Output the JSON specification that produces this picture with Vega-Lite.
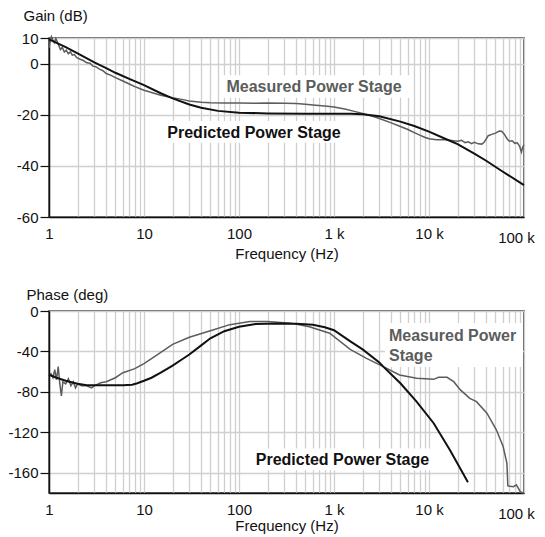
{
  "$schema": "https://vega.github.io/schema/vega-lite/v6.json",
  "background": "white",
  "padding": {"left": 7, "top": 7, "right": 5, "bottom": 0},
  "bounds": "flush",
  "spacing": 94,
  "config": {
    "font": "Liberation Sans",
    "view": {"stroke": "#333", "strokeWidth": 1.5},
    "axis": {
      "labelFont": "Liberation Sans", "labelFontSize": 15, "labelColor": "#111",
      "titleFont": "Liberation Sans", "titleFontSize": 15, "titleFontWeight": "normal", "titleColor": "#111",
      "gridColor": "#cfcfcf", "gridWidth": 1.3, "domainColor": "#111", "domainWidth": 1.5,
      "tickColor": "#111", "tickWidth": 1.2
    }
  },
  "datasets": {
    "gain": [
      {"f": 1, "v": 6, "s": "Measured"}, {"f": 1.03, "v": 9, "s": "Measured"}, {"f": 1.06, "v": 10.5, "s": "Measured"},
      {"f": 1.1, "v": 9.2, "s": "Measured"}, {"f": 1.14, "v": 8.2, "s": "Measured"}, {"f": 1.18, "v": 9.8, "s": "Measured"},
      {"f": 1.22, "v": 8.6, "s": "Measured"}, {"f": 1.27, "v": 7, "s": "Measured"}, {"f": 1.32, "v": 5.5, "s": "Measured"},
      {"f": 1.38, "v": 6.3, "s": "Measured"}, {"f": 1.45, "v": 4.5, "s": "Measured"}, {"f": 1.52, "v": 5.2, "s": "Measured"},
      {"f": 1.6, "v": 3.8, "s": "Measured"}, {"f": 1.68, "v": 4.6, "s": "Measured"}, {"f": 1.76, "v": 3.3, "s": "Measured"},
      {"f": 1.85, "v": 3.5, "s": "Measured"}, {"f": 1.95, "v": 2.4, "s": "Measured"}, {"f": 2.1, "v": 1.8, "s": "Measured"},
      {"f": 2.3, "v": 1.2, "s": "Measured"}, {"f": 2.5, "v": 0.3, "s": "Measured"}, {"f": 2.7, "v": 0.1, "s": "Measured"},
      {"f": 2.9, "v": -1.0, "s": "Measured"}, {"f": 3.1, "v": -1.2, "s": "Measured"}, {"f": 3.4, "v": -2.2, "s": "Measured"},
      {"f": 3.7, "v": -2.8, "s": "Measured"}, {"f": 4, "v": -3.9, "s": "Measured"}, {"f": 4.5, "v": -4.6, "s": "Measured"},
      {"f": 5, "v": -5.5, "s": "Measured"}, {"f": 6, "v": -6.8, "s": "Measured"}, {"f": 7, "v": -8.0, "s": "Measured"},
      {"f": 8, "v": -9.0, "s": "Measured"}, {"f": 10, "v": -10.4, "s": "Measured"}, {"f": 12, "v": -11.3, "s": "Measured"},
      {"f": 15, "v": -12.4, "s": "Measured"}, {"f": 20, "v": -13.4, "s": "Measured"}, {"f": 25, "v": -14.0, "s": "Measured"},
      {"f": 30, "v": -14.6, "s": "Measured"}, {"f": 40, "v": -15.1, "s": "Measured"}, {"f": 50, "v": -15.3, "s": "Measured"},
      {"f": 70, "v": -15.4, "s": "Measured"}, {"f": 100, "v": -15.4, "s": "Measured"}, {"f": 150, "v": -15.5, "s": "Measured"},
      {"f": 200, "v": -15.4, "s": "Measured"}, {"f": 300, "v": -15.5, "s": "Measured"}, {"f": 400, "v": -15.6, "s": "Measured"},
      {"f": 500, "v": -15.9, "s": "Measured"}, {"f": 600, "v": -16.2, "s": "Measured"}, {"f": 800, "v": -16.6, "s": "Measured"},
      {"f": 1000, "v": -17.0, "s": "Measured"}, {"f": 1300, "v": -17.8, "s": "Measured"}, {"f": 1600, "v": -18.6, "s": "Measured"},
      {"f": 2000, "v": -19.5, "s": "Measured"}, {"f": 2500, "v": -20.5, "s": "Measured"}, {"f": 3000, "v": -21.5, "s": "Measured"},
      {"f": 4000, "v": -23.2, "s": "Measured"}, {"f": 5000, "v": -24.6, "s": "Measured"}, {"f": 6000, "v": -25.8, "s": "Measured"},
      {"f": 7000, "v": -27.0, "s": "Measured"}, {"f": 8000, "v": -28.0, "s": "Measured"}, {"f": 9000, "v": -28.8, "s": "Measured"},
      {"f": 10000, "v": -29.4, "s": "Measured"}, {"f": 12000, "v": -29.8, "s": "Measured"}, {"f": 15000, "v": -29.8, "s": "Measured"},
      {"f": 18000, "v": -30.2, "s": "Measured"}, {"f": 20000, "v": -30.4, "s": "Measured"}, {"f": 22000, "v": -30.0, "s": "Measured"},
      {"f": 24000, "v": -30.9, "s": "Measured"}, {"f": 26000, "v": -30.6, "s": "Measured"}, {"f": 28000, "v": -31.3, "s": "Measured"},
      {"f": 30000, "v": -30.8, "s": "Measured"}, {"f": 33000, "v": -31.4, "s": "Measured"}, {"f": 36000, "v": -31.5, "s": "Measured"},
      {"f": 38000, "v": -30.8, "s": "Measured"}, {"f": 40000, "v": -29.5, "s": "Measured"}, {"f": 42000, "v": -28.2, "s": "Measured"},
      {"f": 45000, "v": -27.8, "s": "Measured"}, {"f": 50000, "v": -27.2, "s": "Measured"}, {"f": 55000, "v": -26.4, "s": "Measured"},
      {"f": 58000, "v": -26.5, "s": "Measured"}, {"f": 62000, "v": -27.6, "s": "Measured"}, {"f": 66000, "v": -29.3, "s": "Measured"},
      {"f": 70000, "v": -30.4, "s": "Measured"}, {"f": 75000, "v": -30.2, "s": "Measured"}, {"f": 80000, "v": -31.2, "s": "Measured"},
      {"f": 85000, "v": -31.0, "s": "Measured"}, {"f": 90000, "v": -32.4, "s": "Measured"}, {"f": 94000, "v": -34.6, "s": "Measured"},
      {"f": 97000, "v": -32.6, "s": "Measured"}, {"f": 100000, "v": -31.8, "s": "Measured"},
      {"f": 1, "v": 9.5, "s": "Predicted"}, {"f": 1.5, "v": 6.4, "s": "Predicted"}, {"f": 2, "v": 4.0, "s": "Predicted"},
      {"f": 3, "v": 0.5, "s": "Predicted"}, {"f": 4, "v": -1.8, "s": "Predicted"}, {"f": 5, "v": -3.6, "s": "Predicted"},
      {"f": 7, "v": -6.0, "s": "Predicted"}, {"f": 10, "v": -8.4, "s": "Predicted"}, {"f": 15, "v": -11.6, "s": "Predicted"},
      {"f": 20, "v": -13.6, "s": "Predicted"}, {"f": 30, "v": -16.0, "s": "Predicted"}, {"f": 40, "v": -17.3, "s": "Predicted"},
      {"f": 60, "v": -18.5, "s": "Predicted"}, {"f": 100, "v": -19.2, "s": "Predicted"}, {"f": 200, "v": -19.5, "s": "Predicted"},
      {"f": 500, "v": -19.6, "s": "Predicted"}, {"f": 1000, "v": -19.6, "s": "Predicted"}, {"f": 1500, "v": -19.6, "s": "Predicted"},
      {"f": 2000, "v": -19.8, "s": "Predicted"}, {"f": 3000, "v": -20.6, "s": "Predicted"}, {"f": 5000, "v": -22.7, "s": "Predicted"},
      {"f": 7000, "v": -24.4, "s": "Predicted"}, {"f": 10000, "v": -26.6, "s": "Predicted"}, {"f": 15000, "v": -29.5, "s": "Predicted"},
      {"f": 20000, "v": -31.5, "s": "Predicted"}, {"f": 30000, "v": -35.2, "s": "Predicted"}, {"f": 40000, "v": -38.0, "s": "Predicted"},
      {"f": 60000, "v": -42.3, "s": "Predicted"}, {"f": 100000, "v": -47.5, "s": "Predicted"}
    ],
    "phase": [
      {"f": 1, "v": -64, "s": "Measured"}, {"f": 1.05, "v": -62, "s": "Measured"}, {"f": 1.1, "v": -66, "s": "Measured"},
      {"f": 1.15, "v": -58, "s": "Measured"}, {"f": 1.2, "v": -68, "s": "Measured"}, {"f": 1.25, "v": -55, "s": "Measured"},
      {"f": 1.3, "v": -72, "s": "Measured"}, {"f": 1.35, "v": -84, "s": "Measured"}, {"f": 1.4, "v": -70, "s": "Measured"},
      {"f": 1.5, "v": -72, "s": "Measured"}, {"f": 1.6, "v": -67, "s": "Measured"}, {"f": 1.7, "v": -74, "s": "Measured"},
      {"f": 1.8, "v": -70, "s": "Measured"}, {"f": 1.9, "v": -76, "s": "Measured"}, {"f": 2, "v": -72, "s": "Measured"},
      {"f": 2.2, "v": -74, "s": "Measured"}, {"f": 2.5, "v": -74, "s": "Measured"}, {"f": 2.8, "v": -76, "s": "Measured"},
      {"f": 3, "v": -74, "s": "Measured"}, {"f": 3.5, "v": -71, "s": "Measured"}, {"f": 4, "v": -70, "s": "Measured"},
      {"f": 5, "v": -66, "s": "Measured"}, {"f": 6, "v": -61, "s": "Measured"}, {"f": 8, "v": -57, "s": "Measured"},
      {"f": 10, "v": -52, "s": "Measured"}, {"f": 13.5, "v": -44, "s": "Measured"}, {"f": 20, "v": -33, "s": "Measured"},
      {"f": 30, "v": -26, "s": "Measured"}, {"f": 50, "v": -19.5, "s": "Measured"}, {"f": 80, "v": -13.5, "s": "Measured"},
      {"f": 130, "v": -10.5, "s": "Measured"}, {"f": 200, "v": -10.5, "s": "Measured"}, {"f": 350, "v": -12, "s": "Measured"},
      {"f": 550, "v": -15.5, "s": "Measured"}, {"f": 900, "v": -22, "s": "Measured"}, {"f": 1480, "v": -37.9, "s": "Measured"},
      {"f": 2200, "v": -46.8, "s": "Measured"}, {"f": 3300, "v": -55, "s": "Measured"}, {"f": 4900, "v": -63.3, "s": "Measured"},
      {"f": 7400, "v": -66.6, "s": "Measured"}, {"f": 11200, "v": -67.6, "s": "Measured"}, {"f": 12600, "v": -65.6, "s": "Measured"},
      {"f": 15500, "v": -65.6, "s": "Measured"}, {"f": 18200, "v": -69.9, "s": "Measured"}, {"f": 21400, "v": -78, "s": "Measured"},
      {"f": 26900, "v": -86.4, "s": "Measured"}, {"f": 31600, "v": -89.7, "s": "Measured"}, {"f": 40700, "v": -101, "s": "Measured"},
      {"f": 51300, "v": -117.7, "s": "Measured"}, {"f": 60300, "v": -134, "s": "Measured"}, {"f": 66100, "v": -150.7, "s": "Measured"},
      {"f": 67600, "v": -173, "s": "Measured"}, {"f": 77600, "v": -173.8, "s": "Measured"}, {"f": 83200, "v": -172, "s": "Measured"},
      {"f": 91200, "v": -178.7, "s": "Measured"}, {"f": 98000, "v": -180, "s": "Measured"}, {"f": 100000, "v": -180, "s": "Measured"},
      {"f": 1, "v": -63, "s": "Predicted"}, {"f": 1.2, "v": -66, "s": "Predicted"}, {"f": 1.5, "v": -69, "s": "Predicted"},
      {"f": 2, "v": -72, "s": "Predicted"}, {"f": 2.5, "v": -73.5, "s": "Predicted"}, {"f": 4, "v": -73.5, "s": "Predicted"},
      {"f": 6, "v": -73.5, "s": "Predicted"}, {"f": 7.5, "v": -73, "s": "Predicted"}, {"f": 8.5, "v": -71.5, "s": "Predicted"},
      {"f": 10, "v": -69, "s": "Predicted"}, {"f": 12, "v": -66, "s": "Predicted"}, {"f": 15, "v": -61, "s": "Predicted"},
      {"f": 20, "v": -54, "s": "Predicted"}, {"f": 25, "v": -48, "s": "Predicted"}, {"f": 30, "v": -43, "s": "Predicted"},
      {"f": 40, "v": -34, "s": "Predicted"}, {"f": 50, "v": -27, "s": "Predicted"}, {"f": 70, "v": -20, "s": "Predicted"},
      {"f": 100, "v": -15.5, "s": "Predicted"}, {"f": 150, "v": -12.8, "s": "Predicted"}, {"f": 250, "v": -12.3, "s": "Predicted"},
      {"f": 400, "v": -12.5, "s": "Predicted"}, {"f": 600, "v": -13.5, "s": "Predicted"}, {"f": 800, "v": -16, "s": "Predicted"},
      {"f": 1000, "v": -19, "s": "Predicted"}, {"f": 1500, "v": -30.3, "s": "Predicted"}, {"f": 2000, "v": -38, "s": "Predicted"},
      {"f": 3000, "v": -51, "s": "Predicted"}, {"f": 3300, "v": -55, "s": "Predicted"}, {"f": 5000, "v": -71.5, "s": "Predicted"},
      {"f": 7400, "v": -89.7, "s": "Predicted"}, {"f": 11200, "v": -111, "s": "Predicted"}, {"f": 16600, "v": -137.5, "s": "Predicted"},
      {"f": 25700, "v": -169.4, "s": "Predicted"}
    ],
    "gainBoxes": [
      {"f": 67.9, "f2": 6620, "v": -4.55, "v2": -13.35},
      {"f": 16.2, "f2": 1350, "v": -22.5, "v2": -31.0}
    ],
    "gainLabels": [
      {"f": 73.8, "v": -9.0, "text": "Measured Power Stage", "s": "Measured"},
      {"f": 17.6, "v": -27.1, "text": "Predicted Power Stage", "s": "Predicted"}
    ],
    "phaseBoxes": [
      {"f": 3440, "f2": 97500, "v": -11.9, "v2": -55.4},
      {"f": 137.7, "f2": 11800, "v": -135.9, "v2": -157.5}
    ],
    "phaseLabels": [
      {"f": 3790, "v": -24.4, "text": "Measured Power", "s": "Measured"},
      {"f": 3790, "v": -44.8, "text": "Stage", "s": "Measured"},
      {"f": 150, "v": -147.5, "text": "Predicted Power Stage", "s": "Predicted"}
    ]
  },
  "vconcat": [
    {
      "width": 475, "height": 179,
      "layer": [
        {
          "data": {"name": "gainBoxes"},
          "mark": {"type": "rect", "fill": "white"},
          "encoding": {
            "x": {"field": "f", "type": "quantitative", "scale": {"type": "log", "domain": [1, 100000], "nice": false},
              "axis": {
                "values": [1,2,3,4,5,6,7,8,9,10,20,30,40,50,60,70,80,90,100,200,300,400,500,600,700,800,900,1000,2000,3000,4000,5000,6000,7000,8000,9000,10000,20000,30000,40000,50000,60000,70000,80000,90000,100000],
                "labelExpr": "datum.value==1?'1':datum.value==10?'10':datum.value==100?'100':datum.value==1000?'1 k':datum.value==10000?'10 k':datum.value==100000?'100 k':''",
                "ticks": false, "labelFlush": false, "labelOverlap": false, "labelBound": false,
                "labelPadding": {"condition": {"test": "datum.value == 100000", "value": 13}, "value": 9},
                "labelOffset": {"condition": {"test": "datum.value == 100000", "value": -8}, "value": 0},
                "title": "Frequency (Hz)", "titleBaseline": "alphabetic", "titleY": 41.6, "grid": true
              }},
            "x2": {"field": "f2"},
            "y": {"field": "v", "type": "quantitative", "scale": {"domain": [-60, 10], "nice": false},
              "axis": {"values": [-60, -40, -20, 0, 10], "tickSize": 9, "labelPadding": 2, "grid": true,
                "labelExpr": "datum.value < 0 ? '-' + abs(datum.value) : '' + datum.value",
                "title": "Gain (dB)", "titleAngle": 0, "titleAlign": "left", "titleBaseline": "alphabetic", "titleX": -26, "titleY": -17.5}},
            "y2": {"field": "v2"}
          }
        },
        {
          "data": {"name": "gain"},
          "mark": {"type": "line", "interpolate": "linear"},
          "encoding": {
            "x": {"field": "f", "type": "quantitative"},
            "y": {"field": "v", "type": "quantitative"},
            "color": {"field": "s", "type": "nominal", "scale": {"domain": ["Measured", "Predicted"], "range": ["#5c5c5c", "#111111"]}, "legend": null},
            "strokeWidth": {"field": "s", "type": "nominal", "scale": {"domain": ["Measured", "Predicted"], "range": [1.5, 2]}, "legend": null}
          }
        },
        {
          "data": {"name": "gainLabels"},
          "mark": {"type": "text", "align": "left", "baseline": "middle", "fontWeight": "bold", "fontSize": 16},
          "encoding": {
            "x": {"field": "f", "type": "quantitative"},
            "y": {"field": "v", "type": "quantitative"},
            "text": {"field": "text"},
            "color": {"field": "s", "type": "nominal", "scale": {"domain": ["Measured", "Predicted"], "range": ["#5c5c5c", "#111111"]}, "legend": null}
          }
        }
      ]
    },
    {
      "width": 475, "height": 182,
      "layer": [
        {
          "data": {"name": "phaseBoxes"},
          "mark": {"type": "rect", "fill": "white"},
          "encoding": {
            "x": {"field": "f", "type": "quantitative", "scale": {"type": "log", "domain": [1, 100000], "nice": false},
              "axis": {
                "values": [1,2,3,4,5,6,7,8,9,10,20,30,40,50,60,70,80,90,100,200,300,400,500,600,700,800,900,1000,2000,3000,4000,5000,6000,7000,8000,9000,10000,20000,30000,40000,50000,60000,70000,80000,90000,100000],
                "labelExpr": "datum.value==1?'1':datum.value==10?'10':datum.value==100?'100':datum.value==1000?'1 k':datum.value==10000?'10 k':datum.value==100000?'100 k':''",
                "ticks": false, "labelFlush": false, "labelOverlap": false, "labelBound": false,
                "labelPadding": {"condition": {"test": "datum.value == 100000", "value": 13}, "value": 9},
                "labelOffset": {"condition": {"test": "datum.value == 100000", "value": -8}, "value": 0},
                "title": "Frequency (Hz)", "titleBaseline": "alphabetic", "titleY": 37.6, "grid": true
              }},
            "x2": {"field": "f2"},
            "y": {"field": "v", "type": "quantitative", "scale": {"domain": [-180, 0], "nice": false},
              "axis": {"values": [-160, -120, -80, -40, 0], "tickSize": 9, "labelPadding": 2, "grid": true,
                "labelExpr": "datum.value < 0 ? '-' + abs(datum.value) : '' + datum.value",
                "title": "Phase (deg)", "titleAngle": 0, "titleAlign": "left", "titleBaseline": "alphabetic", "titleX": -23, "titleY": -12}},
            "y2": {"field": "v2"}
          }
        },
        {
          "data": {"name": "phase"},
          "mark": {"type": "line", "interpolate": "linear"},
          "encoding": {
            "x": {"field": "f", "type": "quantitative"},
            "y": {"field": "v", "type": "quantitative"},
            "color": {"field": "s", "type": "nominal", "scale": {"domain": ["Measured", "Predicted"], "range": ["#5c5c5c", "#111111"]}, "legend": null},
            "strokeWidth": {"field": "s", "type": "nominal", "scale": {"domain": ["Measured", "Predicted"], "range": [1.5, 2]}, "legend": null}
          }
        },
        {
          "data": {"name": "phaseLabels"},
          "mark": {"type": "text", "align": "left", "baseline": "middle", "fontWeight": "bold", "fontSize": 16},
          "encoding": {
            "x": {"field": "f", "type": "quantitative"},
            "y": {"field": "v", "type": "quantitative"},
            "text": {"field": "text"},
            "color": {"field": "s", "type": "nominal", "scale": {"domain": ["Measured", "Predicted"], "range": ["#5c5c5c", "#111111"]}, "legend": null}
          }
        }
      ]
    }
  ]
}
